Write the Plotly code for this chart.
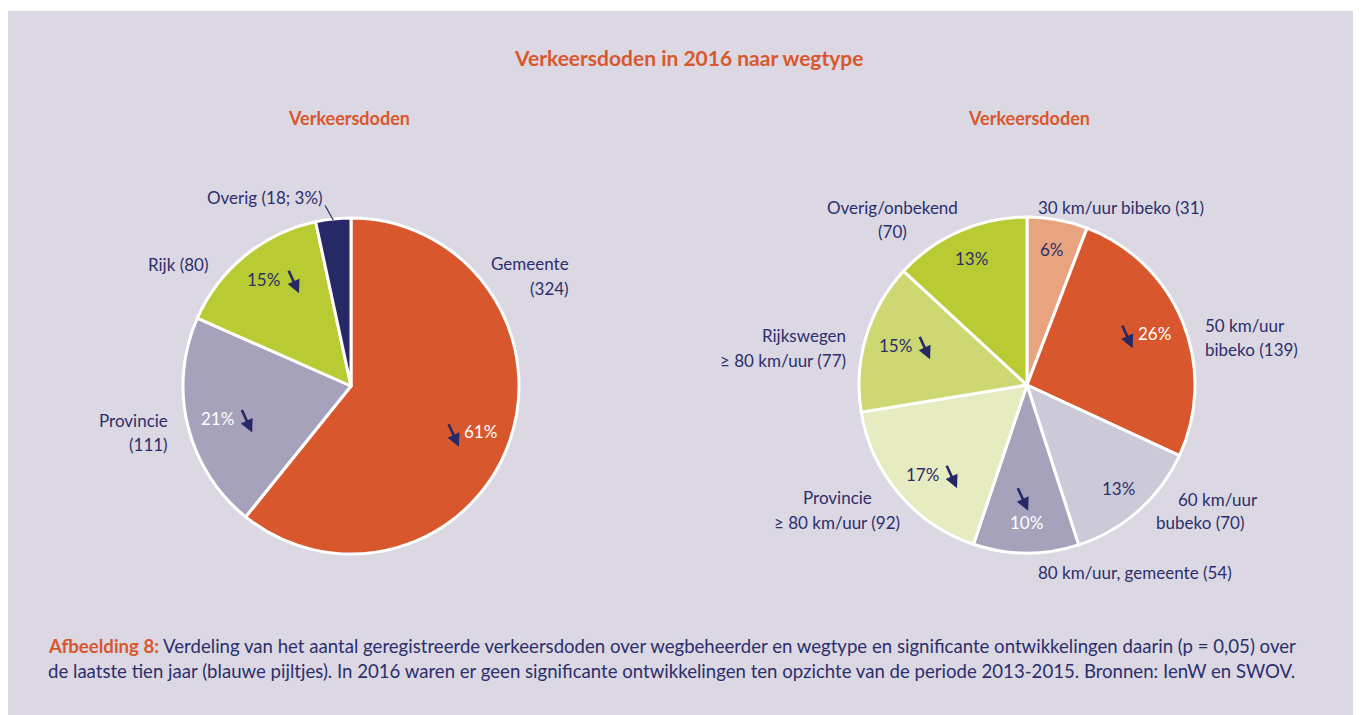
import math
import plotly.graph_objects as go

# ---------------- data ----------------
beheerder_labels = ["Gemeente", "Provincie", "Rijk", "Overig"]
beheerder_values = [324, 111, 80, 18]
beheerder_pct = ["61%", "21%", "15%", ""]
beheerder_trend = ["down", "down", "down", ""]

wegtype_labels = ["30 km/uur bibeko", "50 km/uur bibeko", "60 km/uur bubeko",
                  "80 km/uur, gemeente", "Provincie ≥ 80 km/uur",
                  "Rijkswegen ≥ 80 km/uur", "Overig/onbekend"]
wegtype_values = [31, 139, 70, 54, 92, 77, 70]
wegtype_pct = ["6%", "26%", "13%", "10%", "17%", "15%", "13%"]
wegtype_trend = ["", "down", "", "down", "down", "down", ""]

title_text = "Verkeersdoden in 2016 naar wegtype"
subtitle_text = "Verkeersdoden"
caption_line1 = ("Verdeling van het aantal geregistreerde verkeersdoden over "
                 "wegbeheerder en wegtype en significante ontwikkelingen daarin (p = 0,05) over")
caption_line2 = ("de laatste tien jaar (blauwe pijltjes). In 2016 waren er geen significante "
                 "ontwikkelingen ten opzichte van de periode 2013-2015. Bronnen: IenW en SWOV.")
caption_label = "Afbeelding 8:"

# ---------------- style ----------------
PAGE_MARGIN = 8            # default body margin of the html page
W, H = 1361 - PAGE_MARGIN, 715 - PAGE_MARGIN
BG = "#dbd8e3"
ORANGE = "#d9572c"
NAVY = "#2c2e6c"
ARROW = "#262966"
FONT = "Lato"
LABEL_SIZE = 17

colors1 = ["#d9572c", "#a6a2bb", "#b8cb33", "#262966"]
colors2 = ["#e8a47f", "#d9572c", "#cccad8", "#a6a2bb", "#e6ebc0", "#cdd872", "#b8cb33"]
pct_color1 = ["white", "white", NAVY, NAVY]
pct_color2 = [NAVY, "white", NAVY, "white", NAVY, NAVY, NAVY]
arrow_side1 = ["left", "right", "right", ""]
arrow_side2 = ["", "left", "", "above", "right", "right", ""]
ARROW_OFFSETS = {"right": (35, 14), "left": (-22, 15), "above": (2, -12)}

# pie geometry in screen pixels (centre x, centre y, radius)
PIE1 = (351, 386, 168)
PIE2 = (1027, 385, 168)


def px(x):
    return (x - PAGE_MARGIN) / W


def py(y):
    return 1 - (y - PAGE_MARGIN) / H


def domain(c):
    cx, cy, r = c
    return dict(x=[px(cx - r), px(cx + r)], y=[py(cy + r), py(cy - r)])


def mid_angles(values):
    tot = sum(values)
    out, cum = [], 0
    for v in values:
        out.append((cum + v / 2) / tot * 2 * math.pi)
        cum += v
    return out


fig = go.Figure()
fig.add_trace(go.Pie(labels=beheerder_labels, values=beheerder_values, sort=False,
                     direction="clockwise", rotation=0, textinfo="none",
                     marker=dict(colors=colors1, line=dict(color="white", width=3)),
                     domain=domain(PIE1), showlegend=False, hoverinfo="label+value"))
fig.add_trace(go.Pie(labels=wegtype_labels, values=wegtype_values, sort=False,
                     direction="clockwise", rotation=0, textinfo="none",
                     marker=dict(colors=colors2, line=dict(color="white", width=3)),
                     domain=domain(PIE2), showlegend=False, hoverinfo="label+value"))

ann = []


def text(x, y, s, size=LABEL_SIZE, color=NAVY, xanchor="center"):
    ann.append(dict(x=px(x), y=py(y), xref="paper", yref="paper", text=s,
                    showarrow=False, xanchor=xanchor, yanchor="middle",
                    font=dict(family=FONT, size=size, color=color)))


def add_pie_texts(c, values, pcts, pcolors, trends, sides):
    cx, cy, r = c
    for a, p, col, t, side in zip(mid_angles(values), pcts, pcolors, trends, sides):
        tx = cx + 0.82 * r * math.sin(a)
        ty = cy - 0.82 * r * math.cos(a)
        if p:
            text(tx, ty, p, color=col)
        if t == "down":
            ox, oy = ARROW_OFFSETS[side]
            ann.append(dict(x=px(tx + ox), y=py(ty + oy), xref="paper", yref="paper",
                            ax=-11, ay=-24, text="", showarrow=True, arrowhead=2,
                            arrowsize=1.0, arrowwidth=2.6, arrowcolor=ARROW))


add_pie_texts(PIE1, beheerder_values, beheerder_pct, pct_color1, beheerder_trend, arrow_side1)
add_pie_texts(PIE2, wegtype_values, wegtype_pct, pct_color2, wegtype_trend, arrow_side2)

# leader line for the small "Overig" slice
cx, cy, r = PIE1
a_ov = mid_angles(beheerder_values)[3]
ann.append(dict(x=px(cx + r * math.sin(a_ov)), y=py(cy - r * math.cos(a_ov) + 1),
                xref="paper", yref="paper", ax=-9, ay=-16, text="", showarrow=True,
                arrowhead=0, arrowwidth=1.2, arrowcolor=NAVY))

# titles
text(689, 57, "<b>" + title_text + "</b>", size=21, color=ORANGE)
text(349, 118, "<b>" + subtitle_text + "</b>", size=18, color=ORANGE)
text(1029, 118, "<b>" + subtitle_text + "</b>", size=18, color=ORANGE)

# outside labels, pie 1
text(265, 197, f"Overig ({beheerder_values[3]}; 3%)")
text(210, 264, f"Rijk ({beheerder_values[2]})", xanchor="right")
text(571, 263, "Gemeente", xanchor="right")
text(571, 288, f"({beheerder_values[0]})", xanchor="right")
text(170, 420, "Provincie", xanchor="right")
text(170, 444, f"({beheerder_values[1]})", xanchor="right")

# outside labels, pie 2
text(893, 207, "Overig/onbekend")
text(892, 231, f"({wegtype_values[6]})")
text(1036, 207, f"30 km/uur bibeko ({wegtype_values[0]})", xanchor="left")
text(1203, 325, "50 km/uur", xanchor="left")
text(1203, 349, f"bibeko ({wegtype_values[1]})", xanchor="left")
text(848, 335, "Rijkswegen", xanchor="right")
text(848, 360, f"≥ 80 km/uur ({wegtype_values[5]})", xanchor="right")
text(838, 498, "Provincie")
text(837, 522, f"≥ 80 km/uur ({wegtype_values[4]})")
text(1218, 499, "60 km/uur")
text(1200, 522, f"bubeko ({wegtype_values[2]})")
text(1135, 572, f"80 km/uur, gemeente ({wegtype_values[3]})")

# caption
CAP_SIZE = 18.6
ann.append(dict(x=px(46), y=py(646), xref="paper", yref="paper", showarrow=False,
                xanchor="left", yanchor="middle",
                text=f"<span style='color:{ORANGE}'><b>{caption_label}</b></span> " + caption_line1,
                font=dict(family=FONT, size=CAP_SIZE, color=NAVY)))
ann.append(dict(x=px(46), y=py(671), xref="paper", yref="paper", showarrow=False,
                xanchor="left", yanchor="middle", text=caption_line2,
                font=dict(family=FONT, size=CAP_SIZE, color=NAVY)))

fig.update_layout(
    width=W, height=H, margin=dict(l=0, r=0, t=0, b=0),
    paper_bgcolor="white", plot_bgcolor="white",
    shapes=[dict(type="rect", xref="paper", yref="paper", x0=0, x1=1, y0=0, y1=py(11),
                 fillcolor=BG, line=dict(width=0), layer="below")],
    annotations=ann,
)

fig.write_html("out.html")
